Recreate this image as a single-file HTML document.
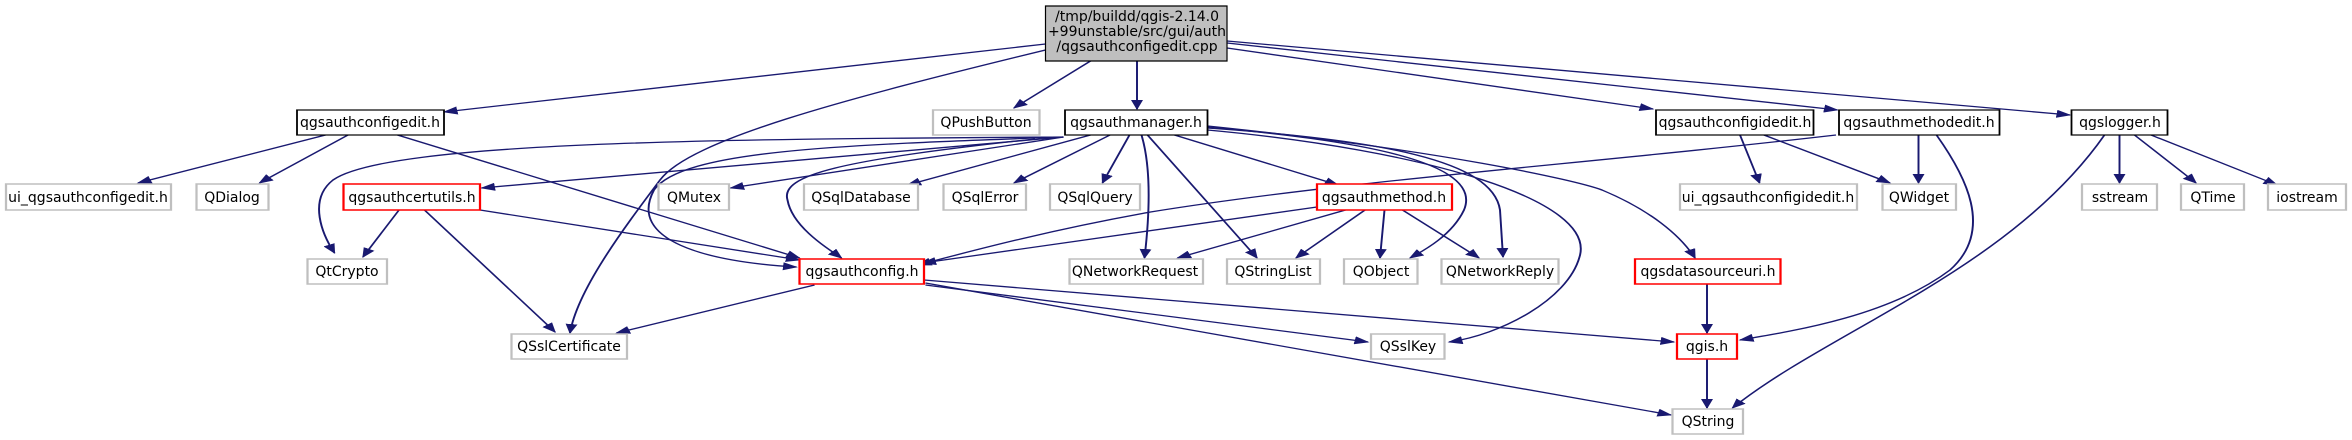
<!DOCTYPE html>
<html><head><meta charset="utf-8"><style>
html,body{margin:0;padding:0;background:#fff;width:2352px;height:440px;overflow:hidden}
svg{display:block}
.e{fill:none;stroke:#191970;stroke-width:1.3;vector-effect:non-scaling-stroke}
.n{fill:#fff;stroke:#000;stroke-width:1.2;vector-effect:non-scaling-stroke}
.g{fill:#fff;stroke:#bfbfbf;stroke-width:1.5;vector-effect:non-scaling-stroke}
.r{fill:#fff;stroke:#ff0000;stroke-width:1.5;vector-effect:non-scaling-stroke}
text{font-family:"DejaVu Sans","Liberation Sans",sans-serif;font-size:14px;fill:#000;text-anchor:middle}
</style></head><body>
<svg width="2352" height="440" viewBox="0 0 1568 440" preserveAspectRatio="none">
<defs><marker id="a" markerWidth="10" markerHeight="8" refX="9" refY="4" orient="auto" markerUnits="userSpaceOnUse"><path d="M0,0 L10,4 L0,8 z" fill="#191970"/></marker></defs>
<g class="e" marker-end="url(#a)">
<path d="M697,44 L296,112"/>
<path d="M697,50 C560,100 460,140 440,180 C415,230 385,290 380,333"/>
<path d="M727,61 L676,108"/>
<path d="M758,61 L758,109"/>
<path d="M818,48 L1102,109"/>
<path d="M818,43 L1225,110"/>
<path d="M818,41 L1380,115"/>
<path d="M217,135 L92,183"/>
<path d="M232,135 L173,183"/>
<path d="M265,135 L533,258"/>
<path d="M709,137 C500,139 260,140 222,180 C205,200 215,235 223,253"/>
<path d="M709,137 L321,188"/>
<path d="M709,137 C560,145 455,150 436,190 C418,240 470,262 531,267"/>
<path d="M690,139 C560,160 520,175 525,200 C528,225 548,245 561,258"/>
<path d="M709,137 L487,188"/>
<path d="M727,135 L605,185"/>
<path d="M740,135 L676,183"/>
<path d="M753,135 L735,183"/>
<path d="M761,135 C768,170 766,220 763,258"/>
<path d="M765,135 L838,258"/>
<path d="M783,135 L892,185"/>
<path d="M805,127 C900,140 990,160 976,210 C968,235 950,250 940,258"/>
<path d="M805,128 C920,140 995,160 1000,210 L1002,257"/>
<path d="M805,130 C950,150 1065,200 1053,257 C1045,300 1000,335 966,342"/>
<path d="M805,126 C960,150 1050,180 1068,190 C1100,210 1120,235 1130,258"/>
<path d="M1224,135 C1050,165 900,180 767,212 C700,230 650,250 612,265"/>
<path d="M1279,135 L1279,183"/>
<path d="M1291,135 C1310,175 1330,230 1300,270 C1260,315 1200,330 1160,340"/>
<path d="M1160,135 L1173,183"/>
<path d="M1176,135 L1260,183"/>
<path d="M878,207 L615,263"/>
<path d="M897,210 L785,258"/>
<path d="M910,210 L864,258"/>
<path d="M923,210 L920,258"/>
<path d="M935,210 L986,258"/>
<path d="M266,210 L242,257"/>
<path d="M283,210 L370,332"/>
<path d="M320,210 L533,260"/>
<path d="M543,285 L411,333"/>
<path d="M617,285 L912,342"/>
<path d="M616,280 L1116,342"/>
<path d="M617,283 L1114,415"/>
<path d="M1138,284 L1138,333"/>
<path d="M1138,359 L1138,408"/>
<path d="M1413,135 L1413,183"/>
<path d="M1423,135 L1464,183"/>
<path d="M1434,135 L1518,185"/>
<path d="M1403,135 C1340,270 1220,330 1155,408"/>
</g>
<rect x="697" y="6" width="121" height="55" fill="#bfbfbf" stroke="#000" stroke-width="1.2" vector-effect="non-scaling-stroke"/>
<g class="n">
<rect x="198" y="110" width="98" height="25"/><rect x="710" y="110" width="95" height="25"/>
<rect x="1104" y="110" width="105" height="25"/><rect x="1226" y="110" width="107" height="25"/>
<rect x="1381" y="110" width="64" height="25"/>
</g>
<g class="g">
<rect x="622" y="110" width="71" height="25"/>
<rect x="4" y="184" width="110" height="26"/><rect x="131" y="184" width="48" height="26"/>
<rect x="439" y="184" width="47" height="26"/><rect x="536" y="184" width="76" height="26"/>
<rect x="629" y="184" width="55" height="26"/><rect x="700" y="184" width="60" height="26"/>
<rect x="1120" y="184" width="118" height="26"/><rect x="1255" y="184" width="49" height="26"/>
<rect x="1388" y="184" width="50" height="26"/><rect x="1454" y="184" width="42" height="26"/>
<rect x="1512" y="184" width="52" height="26"/>
<rect x="205" y="259" width="53" height="25"/><rect x="713" y="259" width="89" height="25"/>
<rect x="818" y="259" width="62" height="25"/><rect x="896" y="259" width="49" height="25"/>
<rect x="961" y="259" width="78" height="25"/>
<rect x="341" y="334" width="77" height="25"/><rect x="914" y="334" width="49" height="25"/>
<rect x="1115" y="409" width="47" height="25"/>
</g>
<g class="r">
<rect x="229" y="184" width="91" height="26"/><rect x="878" y="184" width="90" height="26"/>
<rect x="533" y="259" width="83" height="25"/><rect x="1090" y="259" width="97" height="25"/>
<rect x="1118" y="334" width="40" height="25"/>
</g>
<g transform="scale(0.666667 1)">
<text x="1137" y="21">/tmp/buildd/qgis-2.14.0</text>
<text x="1137" y="36">+99unstable/src/gui/auth</text>
<text x="1137" y="51">/qgsauthconfigedit.cpp</text>
<text x="370" y="127">qgsauthconfigedit.h</text>
<text x="986" y="127">QPushButton</text>
<text x="1136" y="127">qgsauthmanager.h</text>
<text x="1735" y="127">qgsauthconfigidedit.h</text>
<text x="1919" y="127">qgsauthmethodedit.h</text>
<text x="2120" y="127">qgslogger.h</text>
<text x="88" y="202">ui_qgsauthconfigedit.h</text>
<text x="232" y="202">QDialog</text>
<text x="412" y="202">qgsauthcertutils.h</text>
<text x="694" y="202">QMutex</text>
<text x="861" y="202">QSqlDatabase</text>
<text x="985" y="202">QSqlError</text>
<text x="1095" y="202">QSqlQuery</text>
<text x="1384" y="202">qgsauthmethod.h</text>
<text x="1768" y="202">ui_qgsauthconfigidedit.h</text>
<text x="1919" y="202">QWidget</text>
<text x="2120" y="202">sstream</text>
<text x="2213" y="202">QTime</text>
<text x="2307" y="202">iostream</text>
<text x="347" y="276">QtCrypto</text>
<text x="862" y="276">qgsauthconfig.h</text>
<text x="1135" y="276">QNetworkRequest</text>
<text x="1273" y="276">QStringList</text>
<text x="1381" y="276">QObject</text>
<text x="1500" y="276">QNetworkReply</text>
<text x="1708" y="276">qgsdatasourceuri.h</text>
<text x="569" y="351">QSslCertificate</text>
<text x="1408" y="351">QSslKey</text>
<text x="1707" y="351">qgis.h</text>
<text x="1708" y="426">QString</text>
</g>
</svg>
</body></html>
